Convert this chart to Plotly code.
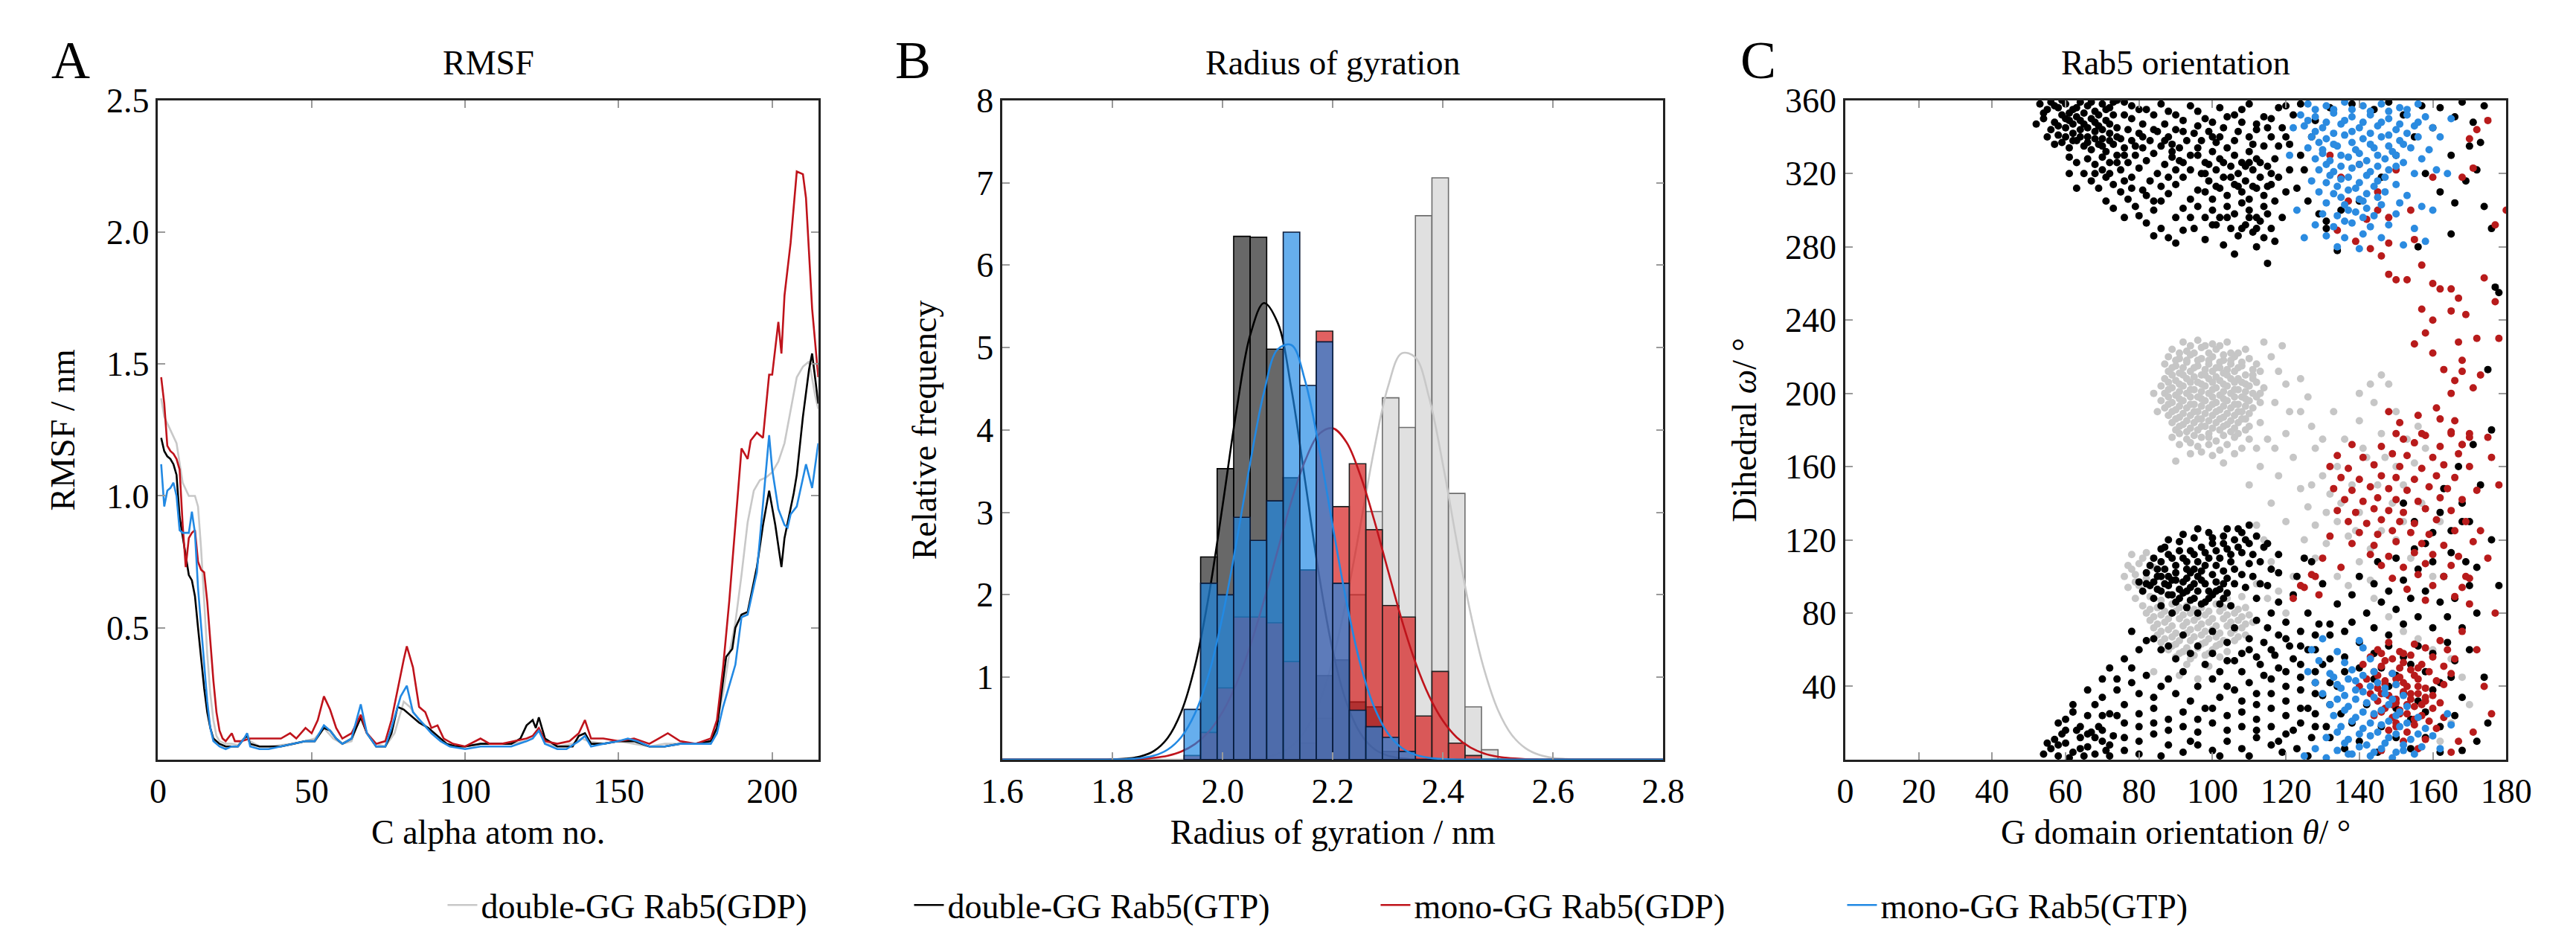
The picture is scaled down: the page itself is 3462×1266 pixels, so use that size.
import plotly.graph_objects as go

NAMES = ["double-GG Rab5(GDP)", "double-GG Rab5(GTP)", "mono-GG Rab5(GDP)", "mono-GG Rab5(GTP)"]
LINE_COLORS = ["#c8c8c8", "#000000", "#bf131b", "#2289e3"]

# --- A: RMSF (residue, nm)
RMSF_DBL_GDP = [(1,1.37),(2,1.3),(4,1.25),(6,1.2),(8,1.05),(10,1.0),(11,1.0),(12,1.0),(13,0.96),(14,0.8),(15,0.6),(16,0.4),
                (17,0.25),(18,0.15),(19,0.09),(20,0.07),(22,0.06),(24,0.06),(26,0.055),(28,0.08),(29,0.1),(30,0.07),(33,0.05),
                (36,0.05),(40,0.055),(44,0.06),(48,0.07),(51,0.08),(54,0.12),(57,0.08),(60,0.06),(63,0.07),(66,0.17),(68,0.1),
                (71,0.06),(74,0.05),(77,0.1),(80,0.22),(82,0.2),(85,0.15),(88,0.12),(91,0.08),(94,0.06),(97,0.05),(100,0.05),
                (105,0.06),(110,0.06),(115,0.06),(120,0.07),(122,0.08),(124,0.12),(126,0.06),(130,0.05),(135,0.06),(138,0.08),
                (140,0.07),(145,0.06),(150,0.07),(155,0.06),(160,0.05),(165,0.06),(170,0.06),(175,0.06),(180,0.07),(182,0.14),
                (184,0.25),(186,0.4),(188,0.52),(190,0.7),(192,0.9),(194,1.02),(196,1.06),(198,1.07),(200,1.09),(202,1.13),
                (204,1.2),(206,1.32),(208,1.45),(210,1.49),(212,1.51),(214,1.38),(215,1.33)]
RMSF_DBL_GTP = [(1,1.22),(2,1.17),(3,1.15),(4,1.14),(5,1.12),(6,1.08),(7,0.92),(8,0.85),(9,0.78),(10,0.7),(11,0.68),(12,0.62),
                (13,0.5),(14,0.38),(15,0.27),(16,0.18),(17,0.12),(18,0.08),(20,0.06),(22,0.05),(24,0.05),(26,0.05),(28,0.08),
                (29,0.09),(30,0.06),(33,0.05),(36,0.05),(40,0.05),(44,0.06),(48,0.07),(51,0.07),(54,0.12),(56,0.11),(58,0.08),
                (60,0.06),(63,0.08),(66,0.16),(68,0.1),(71,0.05),(74,0.05),(76,0.1),(78,0.2),(80,0.19),(82,0.17),(85,0.14),
                (88,0.12),(91,0.09),(94,0.06),(97,0.05),(100,0.05),(105,0.06),(110,0.06),(115,0.06),(118,0.08),(120,0.13),
                (122,0.15),(123,0.12),(124,0.16),(126,0.08),(130,0.05),(135,0.05),(137,0.09),(139,0.1),(141,0.06),(145,0.06),
                (150,0.07),(155,0.07),(160,0.05),(165,0.05),(170,0.06),(175,0.06),(180,0.07),(182,0.12),(184,0.3),(185,0.39),
                (187,0.42),(188,0.5),(190,0.55),(192,0.56),(195,0.73),(197,0.89),(199,1.02),(201,0.89),(203,0.73),(204,0.84),
                (207,1.01),(208,1.08),(210,1.3),(212,1.48),(213,1.54),(214,1.45),(215,1.35)]
RMSF_MONO_GDP = [(1,1.45),(2,1.35),(3,1.19),(4,1.17),(5,1.16),(6,1.14),(7,1.1),(8,0.89),(9,0.73),(10,0.84),(11,0.86),(12,0.87),
                 (13,0.75),(14,0.72),(15,0.71),(16,0.6),(17,0.45),(18,0.3),(19,0.18),(20,0.11),(21,0.08),(22,0.07),(24,0.1),
                 (25,0.07),(27,0.07),(30,0.08),(33,0.08),(36,0.08),(40,0.08),(43,0.1),(45,0.08),(48,0.12),(50,0.1),(52,0.15),
                 (54,0.24),(56,0.19),(58,0.12),(60,0.08),(63,0.1),(66,0.17),(68,0.1),(71,0.06),(74,0.07),(76,0.15),(78,0.27),
                 (80,0.38),(81,0.43),(83,0.35),(85,0.2),(87,0.18),(89,0.12),(91,0.13),(93,0.08),(96,0.06),(100,0.05),(105,0.08),
                 (108,0.06),(112,0.06),(116,0.07),(120,0.08),(122,0.09),(124,0.12),(126,0.07),(130,0.06),(134,0.07),(137,0.1),
                 (139,0.15),(141,0.08),(145,0.08),(150,0.07),(155,0.08),(160,0.06),(163,0.08),(166,0.1),(170,0.07),(175,0.06),
                 (180,0.08),(182,0.15),(184,0.35),(186,0.6),(188,0.89),(190,1.18),(192,1.14),(193,1.21),(195,1.24),(197,1.22),
                 (199,1.46),(200,1.46),(202,1.66),(203,1.54),(204,1.76),(206,1.96),(208,2.23),(210,2.22),(211,2.13),(213,1.71),
                 (215,1.45)]
RMSF_MONO_GTP = [(1,1.12),(2,0.96),(3,1.02),(4,1.03),(5,1.05),(6,1.0),(7,0.87),(8,0.86),(9,0.86),(10,0.86),(11,0.94),(12,0.86),
                 (13,0.65),(14,0.5),(15,0.36),(16,0.22),(17,0.12),(18,0.07),(20,0.05),(22,0.04),(24,0.05),(26,0.05),(28,0.08),
                 (29,0.1),(30,0.05),(33,0.04),(36,0.04),(40,0.05),(44,0.06),(48,0.07),(51,0.07),(54,0.13),(56,0.11),(58,0.08),
                 (60,0.06),(63,0.08),(66,0.21),(68,0.1),(71,0.05),(74,0.05),(76,0.12),(79,0.24),(81,0.28),(83,0.18),(86,0.14),
                 (89,0.1),(92,0.07),(95,0.05),(100,0.04),(105,0.05),(110,0.05),(115,0.05),(120,0.07),(122,0.08),(124,0.11),
                 (126,0.06),(130,0.04),(133,0.04),(137,0.07),(139,0.09),(141,0.05),(145,0.06),(150,0.07),(153,0.08),(156,0.07),
                 (160,0.05),(165,0.05),(170,0.06),(175,0.06),(180,0.06),(182,0.1),(184,0.2),(186,0.28),(188,0.36),(190,0.54),
                 (192,0.55),(195,0.71),(197,0.98),(199,1.23),(200,1.1),(202,0.95),(204,0.89),(205,0.88),(206,0.93),(208,0.96),
                 (211,1.12),(213,1.03),(215,1.2)]

# --- B: radius of gyration histograms (bin left edge, bin width 0.03 nm)
BIN_LEFT = [1.93, 1.96, 1.99, 2.02, 2.05, 2.08, 2.11, 2.14, 2.17, 2.20, 2.23, 2.26, 2.29, 2.32, 2.35, 2.38, 2.41, 2.44, 2.47]
HIST_DBL_GDP = [0, 0, 0, 0, 0, 0, 0, 0.2, 0.5, 1.2, 2.0, 3.01, 4.39, 4.03, 6.6, 7.06, 3.23, 0.64, 0.12]
HIST_DBL_GTP = [0, 2.46, 3.53, 6.35, 6.34, 4.98, 3.42, 2.3, 1.02, 1.21, 0.7, 0.64, 0.1, 0, 0, 0, 0, 0, 0]
HIST_MONO_GDP = [0.05, 0.33, 0.87, 1.73, 1.73, 1.66, 1.19, 2.3, 5.2, 3.07, 3.59, 2.79, 1.87, 1.73, 0.53, 1.07, 0.2, 0.05, 0]
HIST_MONO_GTP = [0.61, 2.14, 2.0, 2.94, 2.66, 3.14, 6.4, 4.54, 5.07, 2.14, 0.6, 0.4, 0.27, 0.1, 0, 0, 0, 0, 0]

# fitted normal curves
FIT_X = [1.6, 1.7,
         1.8, 1.825, 1.85, 1.875, 1.9, 1.925, 1.95, 1.975, 2.0, 2.025, 2.05, 2.075,
         2.1, 2.125, 2.15, 2.175, 2.2, 2.225, 2.25, 2.275, 2.3, 2.325, 2.35, 2.375,
         2.4, 2.425, 2.45, 2.475, 2.5, 2.525, 2.55, 2.575, 2.6, 2.625, 2.65,
         2.7, 2.8]
FIT_DBL_GDP = [0, 0,
               0, 0, 0, 0, 0, 0, 0, 0, 0, 0, 0.009, 0.026,
               0.068, 0.163, 0.35, 0.68, 1.21, 1.95, 2.84, 3.76, 4.52, 4.93, 4.88, 4.39,
               3.58, 2.65, 1.78, 1.09, 0.60, 0.30, 0.138, 0.057, 0.021, 0.007, 0.002,
               0, 0]
FIT_DBL_GTP = [0, 0,
               0.003, 0.012, 0.037, 0.104, 0.261, 0.581, 1.143, 1.994, 3.086, 4.23, 5.15, 5.54,
               5.30, 4.49, 3.37, 2.24, 1.32, 0.69, 0.32, 0.13, 0.048, 0.015, 0.004, 0.001,
               0, 0, 0, 0, 0, 0, 0, 0, 0, 0, 0,
               0, 0]
FIT_MONO_GDP = [0, 0,
                0.001, 0.004, 0.009, 0.022, 0.047, 0.098, 0.19, 0.34, 0.58, 0.92, 1.38, 1.93,
                2.54, 3.14, 3.63, 3.95, 4.02, 3.85, 3.45, 2.91, 2.30, 1.70, 1.18, 0.77,
                0.47, 0.27, 0.146, 0.074, 0.035, 0.016, 0.006, 0.002, 0, 0, 0,
                0, 0]
FIT_MONO_GTP = [0, 0,
                0.002, 0.006, 0.017, 0.048, 0.121, 0.275, 0.563, 1.04, 1.744, 2.636, 3.60, 4.456,
                4.98, 5.03, 4.59, 3.79, 2.83, 1.91, 1.16, 0.64, 0.32, 0.144, 0.059, 0.022,
                0.007, 0.002, 0, 0, 0, 0, 0, 0, 0, 0, 0,
                0, 0]

# --- C: orientation (theta deg, omega deg)
ORIENT_DBL_GDP = [
    (92,228),(96,229),(100,227),(104,228),(89,224),(93,223),(97,225),(101,224),(105,222),(109,224),
    (88,220),(91,219),(94,221),(97,219),(100,220),(103,218),(106,220),(110,219),
    (87,216),(90,215),(93,217),(96,215),(99,216),(102,214),(105,216),(108,215),(112,216),
    (88,212),(91,211),(94,212),(97,210),(100,212),(103,211),(106,212),(109,210),(113,212),
    (87,208),(90,207),(93,208),(96,206),(99,208),(102,207),(105,208),(108,206),(111,208),
    (86,204),(89,203),(92,204),(95,202),(98,204),(101,203),(104,204),(107,202),(110,204),(114,203),
    (87,200),(90,199),(93,200),(96,198),(99,200),(102,199),(105,200),(108,198),(111,200),
    (86,196),(89,195),(92,196),(95,194),(98,196),(101,195),(104,196),(107,194),(110,196),(113,195),
    (87,192),(90,191),(93,192),(96,190),(99,192),(102,191),(105,192),(108,190),(111,192),
    (88,188),(91,187),(94,188),(97,186),(100,188),(103,187),(106,188),(109,186),
    (89,184),(92,183),(95,184),(98,182),(101,184),(104,183),(107,184),(110,182),
    (90,180),(93,179),(96,180),(99,178),(102,180),(105,179),(109,180),
    (89,176),(93,175),(97,176),(101,174),(106,176),(110,175),(91,172),(96,171),(104,172),(108,170),
    (94,167),(100,166),(106,167),(90,163),(103,162),
    (94,226),(98,226),(102,226),(91,222),(95,222),(99,222),(103,221),(107,222),(90,218),(93,218),
    (96,218),(99,218),(102,217),(105,218),(108,217),(89,214),(92,214),(95,214),(98,213),(101,214),
    (104,213),(107,214),(111,213),(89,210),(92,210),(95,209),(98,210),(101,209),(104,210),(107,208),
    (111,210),(88,206),(91,205),(94,206),(97,205),(100,206),(103,205),(106,206),(109,205),(112,206),
    (88,202),(91,201),(94,202),(97,201),(100,202),(103,201),(106,202),(109,201),(113,200),(88,198),
    (91,197),(94,198),(97,197),(100,198),(103,197),(106,198),(109,197),(112,198),(88,194),(91,193),
    (94,194),(97,193),(100,194),(103,193),(106,194),(109,193),(89,190),(92,189),(95,190),(98,189),
    (101,190),(104,189),(107,190),(110,189),(90,186),(93,185),(96,186),(99,185),(102,186),(105,185),
    (108,186),(91,182),(94,181),(97,182),(100,181),(103,182),(106,181),(91,178),(95,177),(99,176),
    (103,177),(107,178),(94,173),(99,172),(102,169),(97,168),
    (116,220),(118,212),(120,205),(117,195),(121,190),(114,228),(119,226),(84,200),(85,190),(112,170),
    (115,175),(124,208),(126,198),(113,184),
    (78,112),(82,113),(77,106),(80,107),(84,105),(76,100),(79,101),(82,99),(77,94),(80,95),(79,88),(83,89),
    (86,87),(104,88),(108,89),(81,84),(85,83),(89,85),(93,84),(97,83),(101,85),(105,84),(109,83),
    (82,80),(86,79),(90,81),(94,80),(98,79),(102,81),(106,80),(110,79),
    (83,76),(87,75),(91,77),(95,76),(99,75),(103,77),(107,76),(111,75),
    (84,72),(88,71),(92,73),(96,72),(100,71),(104,73),(108,72),
    (85,68),(89,67),(93,69),(97,68),(101,67),(105,69),(109,68),
    (86,64),(90,63),(94,65),(98,64),(102,63),(106,65),(88,60),(92,59),(96,61),(100,60),(104,59),
    (90,56),(94,55),(98,57),(102,56),(93,52),(99,51),(91,46),(96,44),(84,48),
    (83,82),(87,81),(91,83),(95,82),(99,81),(103,83),(107,82),(84,78),(88,77),(92,79),(96,78),(100,77),
    (104,79),(108,78),(85,74),(89,73),(93,75),(97,74),(101,73),(105,75),(109,74),(86,70),(90,69),(94,71),
    (98,70),(102,69),(106,71),(87,66),(91,65),(95,67),(99,66),(103,65),(107,67),(89,62),(93,61),(97,63),
    (101,62),(91,58),(95,57),(99,58),(78,104),(81,110),(79,97),
    (110,150),(113,160),(116,140),(118,155),(120,130),(122,165),(124,148),(126,138),(128,170),(130,155),
    (132,145),(134,160),(136,175),(138,150),(140,185),(142,165),(144,195),(146,178),(148,205),(150,190),
    (146,210),(143,205),(140,200),(125,120),(128,128),(131,118),(134,130),(137,122),(140,135),(143,115),
    (146,125),(149,140),(152,150),(155,162),(158,170),(134,100),(137,95),(140,108),(143,98),(128,110),
    (122,100),(118,92),(114,120),(112,128),(116,108),(130,175),(127,182),(133,190),(120,178),(124,190),
    (117,170),(141,170),(145,150),(150,160),(153,175),(156,182),(147,165),(135,140),(139,125),(131,135),
    (127,150),(115,88),(120,80),(112,96),(150,120),(154,110),(160,100),(162,130),(157,140),(152,130),
    (144,88),(148,78),(152,70),(156,66),(160,60),(165,55),(168,45),(165,20),(170,30),(162,10)]
ORIENT_DBL_GTP = [
    (53,358),(55,355),(56,359),(58,356),(60,358),(62,355),(64,359),(66,357),(68,354),(70,358),(72,356),
    (54,350),(57,348),(59,352),(61,349),(63,351),(65,347),(67,350),(69,346),(71,349),(73,352),
    (56,344),(58,341),(60,345),(62,342),(64,344),(66,340),(68,343),(70,339),(72,342),(74,345),
    (59,337),(61,334),(63,338),(65,335),(67,333),(69,336),(71,332),(73,336),(75,339),(52,347),(55,340),
    (57,336),(76,352),(78,357),(61,329),(63,326),(66,328),(68,325),(70,329),(72,326),(74,330),(76,334),
    (78,338),(80,342),(65,320),(67,316),(69,312),(71,318),(73,314),(75,322),(77,326),(79,330),(81,334),
    (83,338),(85,343),(87,347),(75,310),(77,306),(79,302),(81,311),(83,316),(85,320),(87,325),(89,329),
    (91,334),(93,338),(95,342),(80,297),(82,293),(84,300),(86,305),(88,309),(90,314),(92,318),(94,322),
    (78,318),(80,323),(82,327),(84,331),(86,335),(88,340),(90,344),(71,305),(73,301),(76,296),(63,312),
    (61,320),(86,290),(88,285),(90,296),(92,301),(94,306),(96,311),
    (54,353),(57,357),(59,360),(61,353),(63,356),(65,353),(67,359),(69,352),(71,355),(73,359),(58,346),
    (60,350),(62,347),(64,349),(66,345),(68,348),(70,344),(72,347),(60,340),(62,338),(64,340),(66,337),
    (68,339),(70,335),(72,338),(74,340),
    (74,360),(78,350),(80,355),(84,352),(88,354),(92,349),(96,354),(100,348),(104,351),(108,355),(112,347),
    (116,350),(120,357),(77,344),(81,347),(89,336),(92,343),(96,346),(99,343),(102,340),(107,343),(111,336),
    (115,345),(120,340),(76,316),(78,312),(82,308),(84,305),(86,313),(88,318),(90,322),(92,326),(94,330),
    (96,334),(98,320),(68,320),(70,322),(72,320),(74,326),(76,330),(79,335),(81,340),(84,344),(87,338),
    (89,332),(91,327),(96,302),(98,296),(100,292),(104,296),(108,290),(110,296),(112,290),(114,285),
    (99,325),(101,313),(103,326),(107,313),(109,324),(111,313),(113,326),(115,313),(116,320),(105,318),(110,326),
    (96,330),(98,326),(100,332),(102,328),(104,334),(106,330),(108,326),(110,332),(112,328),
    (97,320),(99,316),(101,322),(103,318),(105,324),(107,320),(109,316),(111,322),(113,318),(115,324),
    (98,310),(100,306),(102,312),(104,308),(106,314),(108,310),(110,306),(112,312),(114,308),(116,314),
    (100,300),(102,296),(104,302),(106,298),(108,304),(110,300),(112,296),(114,302),
    (105,290),(107,286),(109,292),(111,288),(113,294),(115,298),(117,305),(118,318),(117,328),(114,335),
    (110,340),(106,338),(101,337),(97,338),(103,345),(108,348),(112,344),(116,340),(119,345),(118,335),
    (95,290),(98,284),(101,292),(116,290),(119,296),(120,310),(121,322),(103,281),(112,280),(117,283),
    (115,271),(106,276),(100,340),(94,296),(92,289),(90,282),(84,286),
    (76,359),(82,355),(86,358),(90,352),(94,357),(98,350),(102,356),(106,352),(110,358),(114,351),
    (118,356),(122,352),(124,358),(128,349),(132,356),(138,358),(144,355),(148,359),(152,352),(157,357),
    (162,356),(166,351),(171,348),(174,357),(168,359),(127,340),(124,330),(121,336),(125,322),(123,312),
    (126,305),(129,298),(131,294),(135,300),(140,305),(146,318),(150,330),(155,340),(158,320),(162,310),
    (165,330),(160,345),(170,335),(172,322),(169,316),(174,302),(176,290),(178,255),(173,337),(166,304),
    (165,287),(156,280),(134,278),(131,290),
    (177,258),(175,213),(176,180),(173,150),(176,120),(170,130),(168,140),(172,105),(178,95),(169,108),
    (163,148),(160,124),(165,113),(167,160),(171,172),
    (83,95),(85,100),(87,104),(89,98),(91,93),(93,99),(95,104),(97,98),(99,92),(101,97),(103,103),
    (105,108),(84,88),(86,84),(88,90),(90,86),(92,91),(94,87),(96,92),(98,86),(100,90),(102,85),
    (104,91),(106,96),(108,101),(86,108),(88,112),(90,106),(92,110),(94,114),(96,108),(98,113),
    (100,118),(102,110),(104,115),(106,120),(108,113),(110,118),(82,102),(84,110),(81,92),(87,116),
    (91,119),(95,121),(99,124),(103,122),(107,126),(110,107),(109,94),(111,100),(113,108),(112,88),
    (105,84),(96,80),(89,80),(93,83),(85,93),(80,97),(97,103),(101,106),(93,104),(88,95),(95,96),
    (103,96),(111,112),(114,116),(116,104),(113,96),
    (84,97),(86,92),(88,100),(90,102),(92,97),(94,94),(96,100),(98,96),(100,101),(102,93),(104,99),
    (106,104),(85,104),(87,96),(89,110),(91,114),(93,108),(95,112),(97,116),(99,110),(101,114),(103,118),
    (105,112),(107,116),(109,120),(89,90),(91,88),(93,92),(95,88),(97,85),(99,88),(101,92),(103,88),
    (86,115),(88,120),(92,123),(96,126),(100,121),(104,126),(82,96),(83,106),(98,106),(94,102),(90,98),(86,100),
    (112,122),(115,118),(118,112),(108,124),(110,128),
    (78,70),(82,65),(86,60),(90,55),(94,58),(98,52),(102,48),(106,54),(110,60),(114,64),(118,68),
    (120,75),(116,80),(112,76),(76,55),(72,50),(70,44),(74,38),(78,42),(82,46),(86,40),(90,36),
    (94,32),(98,28),(102,34),(106,38),(110,42),(114,46),(118,50),(122,55),(126,60),(66,38),(68,30),
    (72,25),(76,20),(80,25),(84,28),(88,22),(92,18),(96,15),(100,20),(104,24),(108,18),(112,22),
    (116,28),(120,32),(124,38),(128,42),(130,52),(60,22),(64,18),(68,12),(72,8),(76,5),(80,10),
    (84,14),(88,8),(92,4),(96,8),(100,5),(104,10),(108,6),(112,12),(116,8),(120,14),(124,20),
    (128,25),(132,30),
    (58,20),(62,30),(66,24),(70,34),(74,44),(78,50),(80,60),(84,66),(88,62),(92,68),(96,62),(100,58),
    (104,54),(108,58),(112,56),(116,60),(120,66),(124,62),(128,68),(132,74),(136,70),(80,36),(84,34),
    (88,44),(92,48),(96,40),(100,44),(104,40),(108,32),(112,36),(116,44),(120,48),(124,52),(128,36),
    (132,42),(76,30),(80,18),(84,20),(88,16),(92,26),(96,22),(100,28),(104,16),(108,26),(112,16),
    (116,18),(120,24),(124,28),(128,18),(132,12),(136,6),(64,6),(66,14),(58,8),(60,16),(70,16),
    (72,2),(76,12),(80,3),(86,2),(94,10),(102,2),(110,2),(118,10),(122,16),(126,2),
    (54,3),(56,6),(58,2),(60,9),(62,4),(64,12),(66,7),(68,3),(70,10),(59,14),(63,16),(67,15),
    (57,11),(61,1),(65,2),(71,5),(73,13),(55,9),(69,18),(74,24),(70,24),(62,26),
    (112,30),(116,36),(120,40),(124,45),(128,48),(132,55),(118,86),(122,90),(126,80),(129,74),
    (132,68),(124,70),(115,72),(110,66),(121,62),(117,57),(126,28),(130,35),(134,40),(136,48),
    (131,18),(127,12),(123,6),(119,4),(135,25),(113,52),(108,48),(104,64),(100,70),(106,72),
    (123,100),(127,108),(130,96),(125,110),(118,102),(115,95),(128,60),
    (140,100),(144,96),(148,92),(152,98),(156,104),(146,86),(150,82),(154,88),(158,92),(162,86),
    (142,80),(138,75),(144,72),(148,68),(152,74),(156,78),(160,72),(164,78),(140,64),(144,58),
    (148,62),(152,56),(156,62),(160,58),(164,64),(166,54),(146,50),(150,46),(154,52),(158,48),
    (162,42),(148,40),(152,36),(156,32),(160,38),(144,44),(140,50),(136,56),(150,28),(154,22),
    (158,26),(146,18),(150,12),(154,6),(158,12),(162,18),(166,24),(168,34),(165,45),(170,60),
    (168,72),(166,88),(163,100),(160,108),(155,115),(150,110),(145,108),(138,90),(134,85),(170,95),
    (172,80),(174,45),(175,20),(172,10),(168,5),(162,4),(145,4),(140,10),(138,20),(142,30),
    (158,118),(165,125),(168,130),(155,130),(152,140),(162,135)]
ORIENT_MONO_GDP = [
    (175,349),(172,344),(170,339),(171,323),(168,318),(177,292),(160,318),(154,300),(148,296),(155,284),
    (145,300),(134,289),(139,283),(143,279),(148,282),(157,270),(148,265),(146,275),(150,262),(153,262),
    (160,260),(162,257),(157,246),(165,257),(167,252),(165,245),(160,240),(158,233),(167,228),(172,230),
    (178,230),(168,218),(155,227),(160,222),(163,213),(166,207),(168,212),(165,200),(171,203),(173,210),
    (177,250),(180,300),(174,263),(169,243),(161,192),(156,188),(151,184),(148,190),(152,175),(157,178),
    (162,186),(166,185),(170,178),(165,178),(175,176),(168,172),(135,318),(140,325),(145,310),(142,295),
    (137,305),(150,322),(132,330),
    (150,178),(158,177),(165,179),(170,176),(138,172),(146,171),(155,173),(162,171),(168,172),
    (134,166),(141,165),(149,167),(153,166),(160,165),(167,167),
    (132,160),(137,159),(144,161),(151,160),(157,159),(163,161),(170,160),
    (135,154),(140,153),(146,155),(150,154),(155,153),(161,155),(166,154),
    (133,148),(138,147),(143,149),(148,148),(153,147),(159,149),(164,148),(172,147),
    (136,142),(141,141),(145,143),(150,142),(156,141),(162,143),(168,142),
    (134,136),(139,135),(144,137),(148,136),(152,135),(158,137),(165,136),
    (137,130),(142,129),(146,131),(151,130),(155,129),(161,131),(169,130),
    (140,124),(145,123),(149,125),(154,124),(159,123),(166,125),
    (138,118),(144,117),(150,119),(157,118),(163,117),(171,119),
    (143,112),(148,111),(155,113),(160,112),(167,111),(146,106),(152,105),(158,107),(165,106),
    (128,100),(149,99),(156,101),(163,100),(170,99),(125,94),(153,93),(160,95),(168,94),(122,88),(158,87),(166,89),
    (124,95),(127,101),(130,110),(132,122),(129,90),(135,105),
    (148,64),(155,63),(162,65),(145,60),(151,59),(158,61),(164,60),(143,56),(149,55),(154,57),(160,56),(166,55),
    (141,52),(146,51),(152,53),(157,52),(163,51),(144,48),(149,47),(154,49),(159,48),(165,47),
    (142,44),(147,43),(151,45),(156,44),(161,43),(140,40),(145,39),(150,41),(153,40),(158,39),(163,41),
    (143,36),(148,35),(152,37),(156,36),(160,35),(145,32),(150,31),(154,33),(158,32),(162,31),
    (147,28),(151,27),(155,29),(160,28),(144,24),(149,23),(153,25),(157,24),(163,23),
    (150,20),(155,19),(159,21),(148,16),(153,15),(161,17),(152,10),(158,11),(146,5),(156,6),(165,4),
    (146,58),(152,58),(147,54),(151,50),(156,50),(145,46),(150,44),(155,46),(147,41),(152,42),(156,40),
    (146,36),(150,33),(154,36),(158,34),(149,30),(153,30),(157,30),(146,26),(151,25),(155,22),(150,18),
    (168,70),(170,85),(172,60),(174,40),(176,25),(171,15),(167,10),(175,110),(178,150),(177,80),
    (169,100),(173,125),(176,165)]
ORIENT_MONO_GTP = [
    (126,358),(131,357),(136,359),(141,357),(146,358),(151,356),(156,358),
    (124,352),(128,351),(133,353),(138,351),(143,352),(148,350),(153,352),(158,351),
    (125,346),(130,345),(135,347),(140,345),(145,346),(150,344),(155,346),(160,345),
    (127,340),(131,339),(136,341),(141,339),(146,340),(151,338),(156,340),
    (126,334),(130,333),(134,335),(139,333),(144,334),(149,332),(154,334),(159,333),
    (128,328),(132,327),(137,329),(142,327),(147,328),(152,326),(157,328),
    (129,322),(133,321),(138,323),(143,321),(148,322),(155,320),(161,322),
    (127,316),(131,315),(135,317),(140,315),(145,316),(150,314),
    (129,310),(133,309),(137,311),(142,309),(147,310),(153,308),
    (131,304),(136,303),(141,305),(146,303),(151,304),(157,302),
    (130,298),(134,297),(139,299),(144,297),(150,298),(128,292),(133,291),(138,293),(143,291),(148,292),
    (131,286),(136,285),(141,287),(146,285),(134,280),(140,279),(152,281),
    (128,355),(133,355),(138,355),(143,354),(148,354),(153,355),(126,349),(131,348),(136,349),(141,348),
    (146,348),(151,347),(156,348),(128,343),(133,342),(138,343),(143,342),(148,341),(153,342),(129,337),
    (133,336),(138,337),(143,336),(148,335),(152,336),(130,331),(135,330),(140,331),(145,330),(150,330),
    (131,325),(135,324),(140,325),(145,324),(150,324),(132,319),(137,318),(142,319),(147,318),(134,313),
    (139,312),(144,313),(135,307),(140,306),(145,307),(137,300),(142,301),(136,294),(141,296),
    (122,345),(121,330),(162,340),(164,320),(160,300),(155,290),(158,283),(165,350),(123,300),(125,285),
    (130,66),(140,65),(127,60),(134,59),(141,61),(129,54),(136,53),(143,55),
    (126,48),(132,47),(138,49),(144,48),(149,47),(128,42),(134,41),(139,43),(145,42),(150,41),
    (130,36),(136,35),(141,37),(147,36),(152,35),(132,30),(137,29),(142,31),(148,30),(153,29),
    (133,24),(139,23),(144,25),(150,24),(156,23),(164,25),(135,18),(141,17),(146,19),(151,18),(158,17),(165,19),
    (131,12),(137,11),(143,13),(148,12),(154,11),(160,13),
    (128,6),(134,5),(140,7),(146,6),(152,5),(157,7),(162,6),(125,2),(131,1),(137,3),(143,2),(149,1),(155,3),
    (133,45),(137,44),(141,46),(135,39),(139,38),(143,40),(147,39),(134,33),(139,33),(144,34),(149,33),
    (136,27),(141,26),(146,27),(151,26),(138,21),(143,20),(148,21),(153,20),(134,15),(140,14),(145,15),
    (150,14),(156,14),(136,9),(142,8),(147,9),(152,8),(138,3),(144,4),(150,4)]

FONT = "Liberation Serif"
FS = 46


def unzip(pairs):
    return [p[0] for p in pairs], [p[1] for p in pairs]


fig = go.Figure()

# A: RMSF lines (these carry the shared legend)
for name, col, data in zip(NAMES, LINE_COLORS, [RMSF_DBL_GDP, RMSF_DBL_GTP, RMSF_MONO_GDP, RMSF_MONO_GTP]):
    x, y = unzip(data)
    fig.add_trace(go.Scatter(x=x, y=y, mode="lines", name=name, line=dict(color=col, width=2.6),
                             xaxis="x", yaxis="y", legendgroup=name))

# B: one overlaid subplot per series, so each histogram sits above the previous fit curve
bar_fill = ["rgba(222,222,222,0.95)", "rgba(40,40,40,0.7)", "rgba(214,30,30,0.7)", "rgba(30,136,229,0.68)"]
bar_edge = ["#6e6e6e", "#000000", "#222222", "#0a1a3a"]
hists = [HIST_DBL_GDP, HIST_DBL_GTP, HIST_MONO_GDP, HIST_MONO_GTP]
fits = [FIT_DBL_GDP, FIT_DBL_GTP, FIT_MONO_GDP, FIT_MONO_GTP]
b_axes = [("x2", "y2"), ("x4", "y4"), ("x5", "y5"), ("x6", "y6")]
for i in range(4):
    xa, ya = b_axes[i]
    fig.add_trace(go.Bar(x=BIN_LEFT, y=hists[i], width=0.03, offset=0, name=NAMES[i], showlegend=False,
                         legendgroup=NAMES[i], marker=dict(color=bar_fill[i], line=dict(color=bar_edge[i], width=1.6)),
                         xaxis=xa, yaxis=ya))
    fig.add_trace(go.Scatter(x=FIT_X, y=fits[i], mode="lines", line=dict(color=LINE_COLORS[i], width=2.6, shape="spline"),
                             name=NAMES[i], showlegend=False, legendgroup=NAMES[i], xaxis=xa, yaxis=ya))

# C: orientation scatter
dot_colors = ["#c6c6c6", "#000000", "#b81b1b", "#2b8be0"]
for name, col, pts in zip(NAMES, dot_colors, [ORIENT_DBL_GDP, ORIENT_DBL_GTP, ORIENT_MONO_GDP, ORIENT_MONO_GTP]):
    x, y = unzip(pts)
    fig.add_trace(go.Scatter(x=x, y=y, mode="markers", marker=dict(color=col, size=10), name=name,
                             showlegend=False, legendgroup=name, xaxis="x3", yaxis="y3"))

ax = dict(showline=True, linecolor="#222222", linewidth=2.5, mirror="ticks", ticks="inside", ticklen=10,
          tickwidth=1.5, tickcolor="#9a9a9a", showgrid=False, zeroline=False,
          tickfont=dict(family=FONT, size=FS, color="black"), title_font=dict(family=FONT, size=FS, color="black"))
YDOM = [0.1975, 0.9115]

fig.update_layout(
    width=3462, height=1266, margin=dict(l=0, r=0, t=0, b=0),
    plot_bgcolor="white", paper_bgcolor="white", barmode="overlay",
    font=dict(family=FONT, size=FS, color="black"),
    xaxis=dict(ax, domain=[0.0540, 0.3151], range=[0, 215], tickvals=[0, 50, 100, 150, 200],
               title=dict(text="C alpha atom no.", standoff=14), anchor="y"),
    yaxis=dict(ax, domain=YDOM, range=[0, 2.5], tickvals=[0.5, 1.0, 1.5, 2.0, 2.5],
               ticktext=["0.5", "1.0", "1.5", "2.0", "2.5"], title=dict(text="RMSF / nm", standoff=28), anchor="x"),
    xaxis2=dict(ax, domain=[0.3879, 0.6493], range=[1.6, 2.8], tickvals=[1.6, 1.8, 2.0, 2.2, 2.4, 2.6, 2.8],
                ticktext=["1.6", "1.8", "2.0", "2.2", "2.4", "2.6", "2.8"],
                title=dict(text="Radius of gyration / nm", standoff=14), anchor="y2"),
    yaxis2=dict(ax, domain=YDOM, range=[0, 8], tickvals=[1, 2, 3, 4, 5, 6, 7, 8],
                title=dict(text="Relative frequency", standoff=40), anchor="x2"),
    xaxis3=dict(ax, domain=[0.7213, 0.9827], range=[0, 180], tickvals=list(range(0, 181, 20)),
                title=dict(text="G domain orientation <i>θ</i>/ °", standoff=14), anchor="y3"),
    yaxis3=dict(ax, domain=YDOM, range=[0, 360], tickvals=list(range(40, 361, 40)),
                title=dict(text="Dihedral <i>ω</i>/ °", standoff=24), anchor="x3"),
    legend=dict(orientation="h", x=0.167, xanchor="left", y=0.040, yanchor="middle",
                entrywidth=572, entrywidthmode="pixels", font=dict(family=FONT, size=FS, color="black"),
                bgcolor="rgba(0,0,0,0)", itemwidth=40),
)
for n in (4, 5, 6):
    fig.update_layout({
        f"xaxis{n}": dict(overlaying="x2", matches="x2", anchor=f"y{n}", visible=False, range=[1.6, 2.8]),
        f"yaxis{n}": dict(overlaying="y2", matches="y2", anchor=f"x{n}", visible=False, range=[0, 8]),
    })

# panel titles and letters
titles = [("RMSF", 0.1846), ("Radius of gyration", 0.5186), ("Rab5 orientation", 0.8520)]
for text, xc in titles:
    fig.add_annotation(text=text, x=xc, y=0.952, xref="paper", yref="paper", showarrow=False,
                       font=dict(family=FONT, size=FS, color="black"), xanchor="center", yanchor="middle")
for text, xc in [("A", 0.0194), ("B", 0.3525), ("C", 0.6870)]:
    fig.add_annotation(text=text, x=xc, y=0.955, xref="paper", yref="paper", showarrow=False,
                       font=dict(family=FONT, size=72, color="black"), xanchor="center", yanchor="middle")

fig.write_html("out.html", config={"displayModeBar": False},
               post_script="document.body.style.margin='0';document.body.style.overflow='hidden';")
